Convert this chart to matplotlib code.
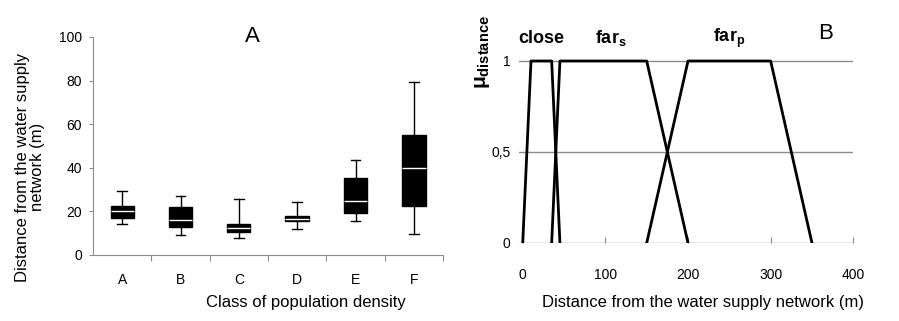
import numpy as np
import matplotlib
matplotlib.use("Agg")
import matplotlib.pyplot as plt

plt.rcParams['font.family'] = ['Liberation Sans', 'DejaVu Sans']
plt.rcParams['mathtext.fontset'] = 'custom'
plt.rcParams['mathtext.rm'] = 'Liberation Sans'
plt.rcParams['mathtext.bf'] = 'Liberation Sans:bold'

# panel A: box plot stats
classes = ['A', 'B', 'C', 'D', 'E', 'F']
whislo = [14.2, 9.3, 7.9, 11.7, 15.5, 9.6]
q1 = [16.8, 12.8, 10.5, 15.4, 19.2, 22.3]
med = [20.0, 16.2, 12.2, 16.5, 24.7, 39.9]
q3 = [22.6, 21.8, 14.0, 18.0, 35.2, 55.2]
whishi = [29.3, 27.1, 25.6, 24.1, 43.6, 79.3]

# panel B: membership functions (distance, membership)
close_x = [0, 10, 35, 45]
close_y = [0, 1, 1, 0]
fars_x = [35, 45, 150, 200]
fars_y = [0, 1, 1, 0]
farp_x = [150, 200, 300, 350]
farp_y = [0, 1, 1, 0]

W, H = 899, 321
fig = plt.figure(figsize=(W / 100, H / 100), dpi=100)

grey = '#8c8c8c'

# ---------- panel A ----------
ax1 = fig.add_axes([93 / W, 1 - 255 / H, 350 / W, 218 / H])
stats = []
for i in range(len(classes)):
    stats.append(dict(med=med[i], q1=q1[i], q3=q3[i], whislo=whislo[i], whishi=whishi[i], fliers=[]))
pos = np.arange(1, len(classes) + 1)
ax1.bxp(stats, positions=pos, widths=0.4, capwidths=0.17, patch_artist=True, showfliers=False,
        boxprops=dict(facecolor='black', edgecolor='black', linewidth=1),
        medianprops=dict(color='white', linewidth=1),
        whiskerprops=dict(color='black', linewidth=1),
        capprops=dict(color='black', linewidth=1))
ax1.set_xlim(0.5, 6.5)
ax1.set_ylim(0, 100)
ax1.set_yticks([0, 20, 40, 60, 80, 100])
ax1.set_xticks(pos + 0.5)
ax1.set_xticklabels([])
ax1.set_xticks(pos, minor=True)
ax1.set_xticklabels(classes, minor=True)
ax1.tick_params(axis='x', which='minor', length=0, pad=13, labelsize=10)
ax1.tick_params(axis='x', which='major', length=4, color=grey)
ax1.tick_params(axis='y', length=3, color=grey, labelsize=10, pad=5)
for s in ['top', 'right']:
    ax1.spines[s].set_visible(False)
for s in ['left', 'bottom']:
    ax1.spines[s].set_color(grey)
ax1.text(3.23, 100, 'A', ha='center', va='center', fontsize=16)
fig.text(306 / W, 1 - 303 / H, 'Class of population density', ha='center', va='center', fontsize=12)
fig.text(30 / W, 1 - 167 / H, 'Distance from the water supply\nnetwork (m)', rotation=90,
         ha='center', va='center', fontsize=12, linespacing=1.0)

# ---------- panel B ----------
ax2 = fig.add_axes([518.6 / W, 1 - 243 / H, 334.7 / W, 218.4 / H])
ax2.plot(close_x, close_y, color='black', lw=2)
ax2.plot(fars_x, fars_y, color='black', lw=2)
ax2.plot(farp_x, farp_y, color='black', lw=2)
ax2.set_xlim(-5, 400)
ax2.set_ylim(0, 1.2)
ax2.set_yticks([0, 0.5, 1])
ax2.set_yticklabels(['0', '0,5', '1'])
ax2.set_xticks([0, 100, 200, 300, 400])
ax2.grid(axis='y', color=grey, lw=1)
ax2.set_axisbelow(True)
for s in ax2.spines.values():
    s.set_visible(False)
ax2.tick_params(axis='y', length=0, pad=6, labelsize=10)
ax2.tick_params(axis='x', direction='in', length=4, color=grey, pad=18, labelsize=10)
ax2.text(23, 1.126, 'close', ha='center', va='center', fontsize=13, fontweight='bold')
ax2.text(107, 1.126, r'far$_{\mathbf{s}}$', ha='center', va='center', fontsize=13, fontweight='bold')
ax2.text(250, 1.126, r'far$_{\mathbf{p}}$', ha='center', va='center', fontsize=13, fontweight='bold')
ax2.text(367, 1.15, 'B', ha='center', va='center', fontsize=16)
fig.text(703 / W, 1 - 303 / H, 'Distance from the water supply network (m)', ha='center', va='center', fontsize=12)
fig.text(483 / W, 1 - 52 / H, r'μ$_{\mathbf{distance}}$', rotation=90, ha='center', va='center',
         fontsize=15, fontweight='bold')

fig.savefig('out.png', dpi=100)
